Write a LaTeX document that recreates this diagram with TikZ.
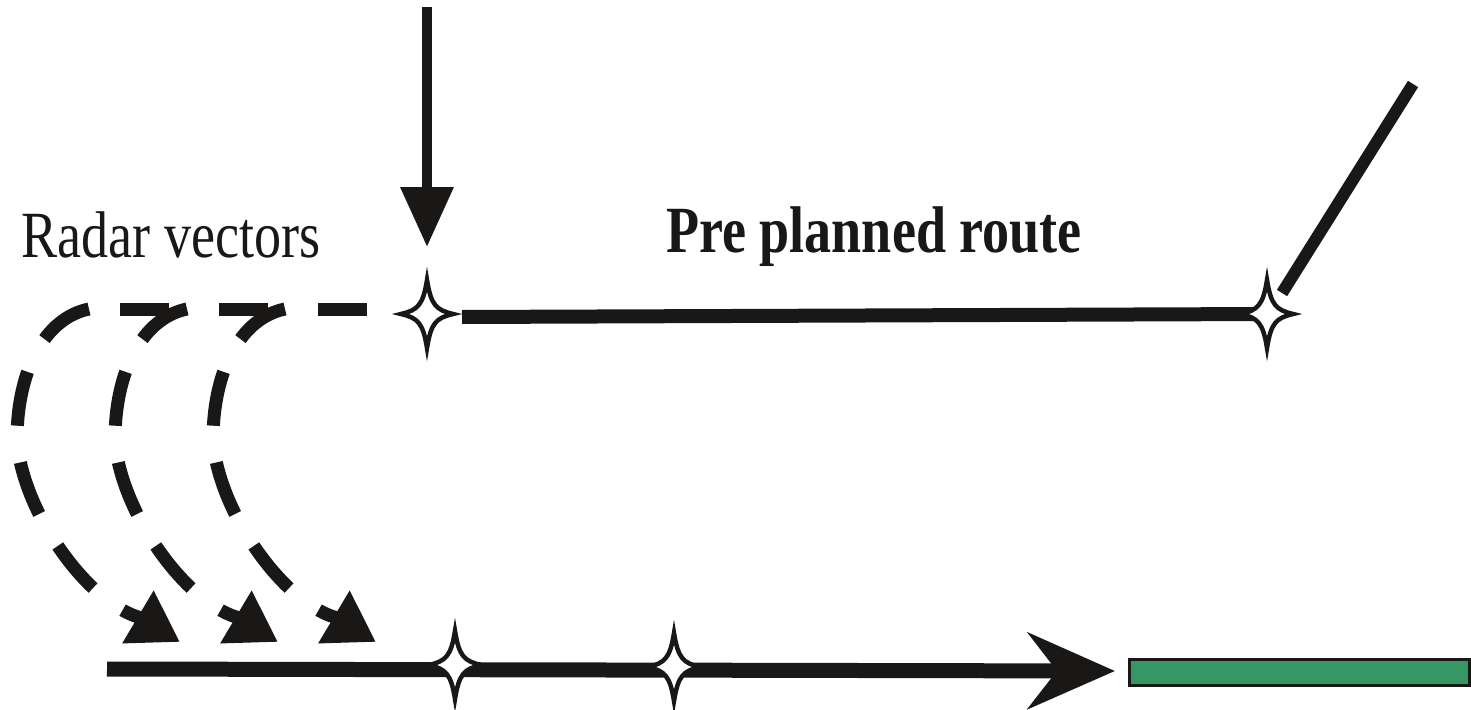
\documentclass[tikz,border=0pt]{standalone}
\usepackage{fontspec}
\usepackage{graphicx}
\setmainfont{Liberation Serif}
\usetikzlibrary{arrows.meta}

\definecolor{ink}{RGB}{26,23,23}
\definecolor{runway}{RGB}{53,152,100}

\tikzset{
  route/.style={draw=ink, line width=14pt},
  vector/.style={draw=ink, line width=13pt, dash pattern=on 55pt off 37pt},
  vectorhead/.style={-{Triangle[length=49pt,width=58pt]}},
  label/.style={inner sep=0pt, anchor=base, text=ink},
  fourstar/.pic={
    \path[draw=ink, fill=white, line width=4.5pt, line join=miter]
      (0,-34) .. controls (4,-9) and (9,-4) .. (26,0)
              .. controls (9,4) and (4,9) .. (0,34)
              .. controls (-4,9) and (-9,4) .. (-26,0)
              .. controls (-9,-4) and (-4,-9) .. cycle;
  }
}

\begin{document}
\begin{tikzpicture}[x=1pt, y=-1pt]
\useasboundingbox (0,0) rectangle (1471,709);

% waypoints
\coordinate (wpA) at (427,314);
\coordinate (wpB) at (1267,314);
\coordinate (wpC) at (455,665);
\coordinate (wpD) at (674,667);

% inbound arrow from above
\coordinate (inTop) at (427,7);
\coordinate (inTip) at (427,247);
\draw[ink, line width=10pt, -{Triangle[length=60pt,width=51pt]}] (inTop) -- (inTip);

% pre planned route
\coordinate (routeStart) at (462,317);
\draw[route] (routeStart) -- (wpB);
\coordinate (legEnd) at (1413,84);
\coordinate (legStart) at (1282,293);
\draw[draw=ink, line width=12pt] (legStart) -- (legEnd);

% radar vector branches
\coordinate (dashStart) at (367,309);
\coordinate (dashEnd) at (120,309);
\draw[draw=ink, line width=13pt, dash pattern=on 49pt off 50pt] (dashStart) -- (dashEnd);

\foreach \k in {0,1,2} {
  \begin{scope}[xshift=98*\k]
    \coordinate (vs\k) at (89,309);
    \coordinate (vt\k) at (180,642);
    \draw[vector, vectorhead]
      (vs\k) .. controls (45,318) and (17,370) .. (17,440)
             .. controls (22,510) and (85,600) .. (138,617)
             -- (vt\k);
  \end{scope}
}

% final approach
\coordinate (appStart) at (107,669);
\coordinate (appTip) at (1115,671);
\draw[ink, line width=15pt, -{Stealth[length=87pt,width=76pt,inset=29pt]}] (appStart) -- (appTip);

% runway
\path[draw=ink, fill=runway, line width=3pt] (1129,659) rectangle (1469,685);

% waypoint symbols
\pic at (wpA) {fourstar};
\pic at (wpB) {fourstar};
\pic at (wpC) {fourstar};
\pic at (wpD) {fourstar};

% labels
\node[label] (radar) at (171,257) {\fontsize{66}{70}\selectfont\scalebox{0.82}[1]{Radar vectors}};
\node[label] (pre) at (874,252) {\fontsize{66}{70}\selectfont\bfseries\scalebox{0.82}[1]{Pre planned route}};
\end{tikzpicture}
\end{document}
